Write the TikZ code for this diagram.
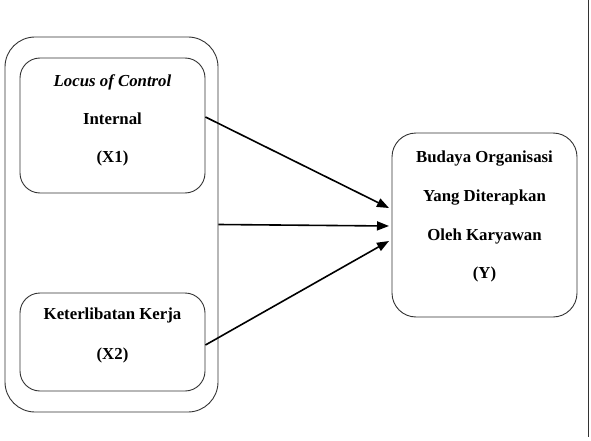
\documentclass[tikz,border=0pt]{standalone}
\usepackage{fontspec}
\setmainfont{Liberation Serif}
\usetikzlibrary{arrows.meta}
\begin{document}
\begin{tikzpicture}[x=1pt,y=-1pt,
  box/.style={draw=black!80, line width=0.9pt, rounded corners=#1, inner sep=0pt},
  txt/.style={font=\fontsize{16.8}{19}\selectfont\bfseries, inner sep=0pt, text height=11.5pt, text depth=3pt, anchor=center},
  conn/.style={line width=1.6pt, -{Triangle[length=12pt,width=9pt]}}]
\useasboundingbox (0,0) rectangle (591,441);
% outer group
\node[box=30pt, minimum width=213pt, minimum height=375pt] (grp) at (111.5,224.5) {};
% X1
\node[box=20pt, minimum width=185pt, minimum height=135pt] (x1) at (112.5,125.5) {};
\node[txt] (x1a) at (112.5,82) {\itshape Locus of Control};
\node[txt] (x1b) at (112.5,120) {Internal};
\node[txt] (x1c) at (112.5,158) {(X1)};
% X2
\node[box=20pt, minimum width=185pt, minimum height=98pt] (x2) at (112.5,342) {};
\node[txt] (x2a) at (112.5,315) {Keterlibatan Kerja};
\node[txt] (x2b) at (112.5,355) {(X2)};
% Y
\node[box=24pt, minimum width=185pt, minimum height=184pt] (y) at (484.5,225) {};
\node[txt] (ya) at (484.5,158) {Budaya Organisasi};
\node[txt] (yb) at (484.5,197) {Yang Diterapkan};
\node[txt] (yc) at (484.5,236) {Oleh Karyawan};
\node[txt] (yd) at (484.5,274) {(Y)};
% right rule
\coordinate (r1) at (588,0);
\coordinate (r2) at (588,437);
\draw[line width=0.9pt, black!80] (r1) -- (r2);
% connectors
\coordinate (s1) at (x1.east |- 0,117);
\coordinate (e1) at (389,208);
\coordinate (s2) at (grp.east);
\coordinate (e2) at (389,226);
\coordinate (s3) at (x2.east |- 0,345);
\coordinate (e3) at (389,241);
\draw[conn] (s1) -- (e1);
\draw[conn] (s2) -- (e2);
\draw[conn] (s3) -- (e3);
\end{tikzpicture}
\end{document}
